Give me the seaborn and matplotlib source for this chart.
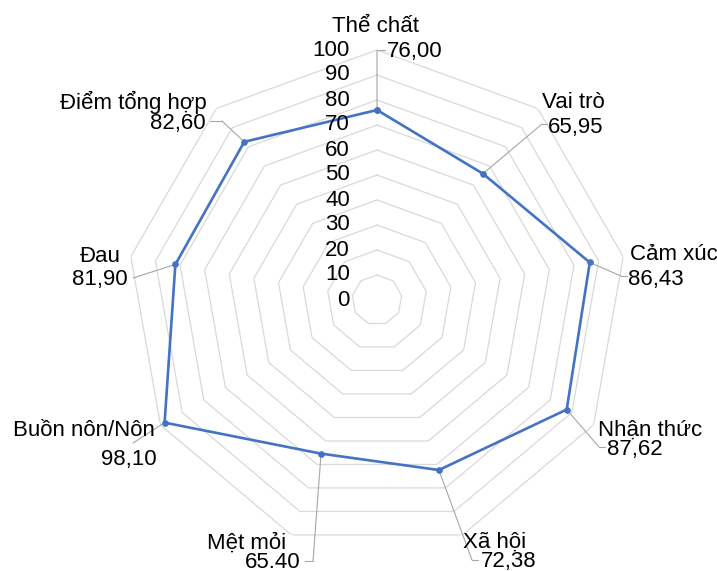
import numpy as np
import pandas as pd
import matplotlib
matplotlib.use("Agg")
import matplotlib.pyplot as plt
from matplotlib.lines import Line2D
from matplotlib.transforms import offset_copy
import seaborn as sns

# Data
categories = ["Thể chất", "Vai trò", "Cảm xúc", "Nhận thức", "Xã hội",
              "Mệt mỏi", "Buồn nôn/Nôn", "Đau", "Điểm tổng hợp"]
scores = [76.00, 65.95, 86.43, 87.62, 72.38, 65.40, 98.10, 81.90, 82.60]
score_labels = ["76,00", "65,95", "86,43", "87,62", "72,38",
                "65.40", "98,10", "81,90", "82,60"]
r_ticks = list(range(0, 101, 10))

W, H = 717, 571
LINE_COLOR = "#4472C4"
GRID_COLOR = "#d9d9d9"
LEADER_COLOR = "#a6a6a6"
FS = 16
TEXT_DY = 2  # va="center" sits a little high vs. glyph centre

# label layout in pixels from top-left: (x, y, ha)
cat_pos = [(375, 25, "center"), (573, 100, "center"), (630, 253, "left"),
           (598, 428, "left"), (463, 540, "left"), (286, 541, "right"),
           (155, 429, "right"), (100, 254, "center"), (207, 100, "right")]
val_pos = [(387, 50, "left"), (548, 125, "left"), (628, 277, "left"),
           (607, 448, "left"), (481, 560, "left"), (300, 560, "right"),
           (157, 457, "right"), (100, 278, "center"), (206, 122, "right")]
# leader lines: elbow point, then optional short horizontal tick end
leader_pts = [[(377, 50), (385, 50)], [(542, 124), (547, 124)],
              [(621, 276), (627, 276)], [(599, 447), (605, 447)],
              [(472, 560), (478, 560)], [(313, 561), (305, 561)],
              [(133, 443)], [(133, 278)], [(222, 121), (210, 121)]]

sns.set_style("white")
plt.rcParams["font.family"] = ["Liberation Sans", "DejaVu Sans"]

fig = plt.figure(figsize=(W / 100, H / 100), dpi=100)
cx, cy, R = 377, 300, 250
ax = fig.add_axes([(cx - R) / W, (H - cy - R) / H, 2 * R / W, 2 * R / H],
                  projection="polar")
ax.set_theta_zero_location("N")
ax.set_theta_direction(-1)
ax.set_ylim(0, 100)

n = len(categories)
theta = np.linspace(0, 2 * np.pi, n, endpoint=False)
theta_closed = np.append(theta, 2 * np.pi)

# polygon grid rings
for r in r_ticks[1:]:
    ax.plot(theta_closed, [r] * (n + 1), color=GRID_COLOR, lw=0.9, zorder=1)

df = pd.DataFrame({"theta": theta_closed, "score": scores + scores[:1]})
sns.lineplot(data=df, x="theta", y="score", ax=ax, sort=False,
             color=LINE_COLOR, linewidth=1.9, marker="o", markersize=4,
             markeredgecolor=LINE_COLOR, zorder=3)

ax.grid(False)
ax.spines["polar"].set_visible(False)
ax.set_xticks([])
ax.set_yticks([])
ax.set_xlabel("")
ax.set_ylabel("")

# radial axis labels
tr = offset_copy(ax.transData, fig=fig, x=-27, y=0, units="dots")
for r in r_ticks:
    ax.text(0, r, str(r), transform=tr, ha="right", va="center",
            fontsize=FS, color="black")

# data labels with leader lines
for i in range(n):
    x, y, ha = cat_pos[i]
    fig.text(x / W, 1 - (y + TEXT_DY) / H, categories[i], ha=ha, va="center",
             fontsize=FS, color="black")
    x, y, ha = val_pos[i]
    fig.text(x / W, 1 - (y + TEXT_DY) / H, score_labels[i], ha=ha, va="center",
             fontsize=FS, color="black")
    pts = leader_pts[i]
    ex, ey = pts[0]
    ax.annotate("", xy=(theta[i], scores[i]), xycoords="data",
                xytext=(ex / W, 1 - ey / H), textcoords="figure fraction",
                arrowprops=dict(arrowstyle="-", color=LEADER_COLOR, lw=0.8,
                                shrinkA=0, shrinkB=0), zorder=2)
    if len(pts) > 1:
        fig.add_artist(Line2D([p[0] / W for p in pts], [1 - p[1] / H for p in pts],
                              transform=fig.transFigure, color=LEADER_COLOR, lw=0.8))

fig.savefig("out.png", dpi=100)
